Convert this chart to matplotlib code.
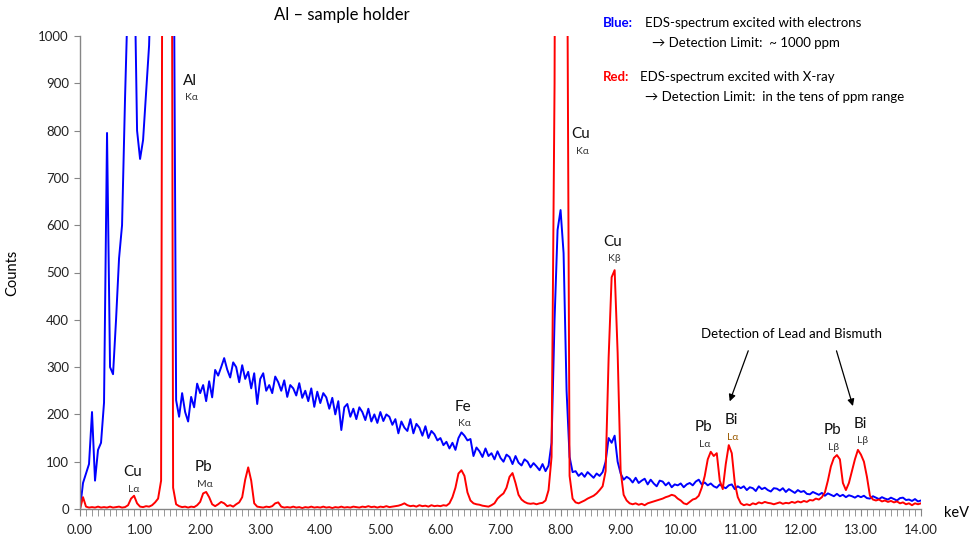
import numpy as np
import matplotlib

matplotlib.use("Agg")
import matplotlib.pyplot as plt
from matplotlib.ticker import MultipleLocator, FuncFormatter

plt.rcParams["font.family"] = ["Lato", "DejaVu Sans"]

# energy grid of the spectra (keV), one channel every 0.05 keV
STEP_KEV = 0.05
N_CHANNELS = 281

# EDS spectrum excited with electrons (blue), counts per channel
blue_counts = [
    0, 55, 75, 95, 205, 60, 125, 140, 225, 795, 300, 285, 400, 530, 600, 870, 1100, 1400, 1200, 800,
    740, 780, 880, 980, 1200, 1600, 2000, 2500, 3000, 3000, 2000, 1500, 230, 195, 245, 205, 185, 237, 215, 265,
    245, 262, 228, 270, 236, 294, 282, 300, 319, 295, 278, 310, 300, 268, 304, 275, 290, 255, 287, 222,
    275, 287, 250, 262, 245, 280, 268, 250, 272, 237, 262, 255, 240, 266, 235, 250, 228, 255, 216, 248,
    224, 245, 236, 212, 235, 200, 228, 167, 215, 222, 195, 212, 190, 215, 205, 188, 212, 185, 200, 182,
    205, 186, 200, 195, 178, 190, 160, 185, 172, 165, 190, 160, 180, 172, 155, 175, 150, 165, 158, 145,
    150, 135, 142, 128, 140, 125, 150, 162, 155, 145, 148, 112, 130, 122, 110, 128, 112, 118, 105, 122,
    108, 100, 115, 110, 95, 112, 98, 92, 105, 100, 88, 97, 90, 82, 95, 80, 92, 140, 400, 590,
    632, 541, 250, 110, 78, 80, 70, 76, 68, 78, 72, 66, 75, 70, 78, 100, 150, 140, 155, 100,
    75, 62, 68, 64, 56, 66, 55, 60, 64, 52, 62, 54, 48, 60, 58, 50, 56, 46, 52, 50,
    54, 46, 52, 55, 50, 58, 62, 52, 56, 50, 54, 48, 45, 52, 47, 44, 50, 52, 42, 48,
    44, 48, 40, 46, 44, 38, 48, 42, 45, 40, 37, 44, 43, 39, 44, 36, 42, 38, 34, 40,
    36, 38, 32, 31, 36, 33, 30, 34, 28, 33, 30, 27, 32, 27, 30, 25, 29, 27, 24, 28,
    25, 28, 23, 22, 27, 24, 21, 25, 22, 20, 24, 21, 18, 23, 24, 19, 20, 17, 21, 16,
    18,
]

# EDS spectrum excited with X-ray (red), counts per channel
red_counts = [
    0, 25, 5, 3, 4, 3, 5, 3, 4, 3, 5, 3, 4, 5, 3, 4, 8, 22, 28, 12,
    5, 4, 6, 5, 8, 14, 22, 60, 3000, 3000, 3000, 45, 10, 6, 4, 5, 3, 5, 4, 8,
    15, 33, 36, 25, 10, 6, 10, 15, 12, 6, 8, 5, 10, 14, 25, 62, 88, 60, 12, 5,
    4, 3, 5, 4, 6, 12, 14, 5, 3, 4, 3, 5, 3, 4, 2, 4, 3, 5, 3, 4,
    3, 5, 3, 4, 2, 4, 3, 5, 3, 4, 3, 5, 4, 3, 5, 4, 6, 4, 5, 3,
    5, 4, 6, 4, 5, 6, 7, 9, 12, 8, 6, 7, 5, 8, 6, 7, 5, 8, 6, 7,
    6, 8, 7, 12, 25, 45, 75, 82, 70, 35, 18, 12, 10, 9, 7, 6, 5, 8, 12, 22,
    28, 33, 45, 68, 76, 55, 30, 20, 15, 12, 11, 12, 10, 12, 13, 18, 40, 110, 900, 3000,
    3000, 3000, 1500, 70, 22, 14, 12, 15, 18, 22, 25, 28, 33, 40, 48, 80, 320, 490, 505, 330,
    80, 30, 18, 12, 10, 12, 9, 11, 8, 12, 14, 16, 18, 20, 22, 25, 27, 30, 28, 22,
    18, 12, 10, 15, 20, 22, 28, 45, 70, 105, 121, 112, 118, 60, 42, 95, 135, 118, 55, 25,
    12, 8, 10, 8, 12, 10, 14, 12, 15, 13, 12, 10, 12, 14, 11, 13, 12, 15, 13, 16,
    14, 17, 15, 19, 18, 22, 20, 25, 35, 60, 90, 108, 114, 105, 55, 40, 55, 80, 105, 125,
    115, 100, 68, 28, 20, 18, 20, 16, 18, 15, 17, 14, 16, 12, 14, 10, 12, 8, 12, 10,
    12,
]

# peak labels: (element, line, keV, counts)
peak_labels = [
    ("Al", "Kα", 1.83, 905),
    ("Cu", "Kα", 8.33, 792),
    ("Cu", "Kβ", 8.86, 565),
    ("Fe", "Kα", 6.37, 216),
    ("Cu", "Lα", 0.87, 78),
    ("Pb", "Mα", 2.05, 88),
    ("Pb", "Lα", 10.37, 173),
    ("Bi", "Lα", 10.84, 188),
    ("Pb", "Lβ", 12.52, 167),
    ("Bi", "Lβ", 12.99, 180),
]

W, H = 978, 536


def fx(px):
    return px / W


def fy(py):
    return 1 - py / H


def main():
    energy = np.arange(N_CHANNELS) * STEP_KEV

    fig = plt.figure(figsize=(W / 100, H / 100), dpi=100)
    ax = fig.add_axes([fx(80), fy(509), fx(921) - fx(80), fy(36) - fy(509)])

    ax.plot(energy, blue_counts, color="#0000ff", lw=1.4)
    ax.plot(energy, red_counts, color="#ff0000", lw=1.4)

    ax.set_xlim(0, 14)
    ax.set_ylim(0, 1000)
    ax.xaxis.set_major_locator(MultipleLocator(1))
    ax.xaxis.set_minor_locator(MultipleLocator(0.1))
    ax.xaxis.set_major_formatter(FuncFormatter(lambda v, _: f"{v:.2f}"))
    ax.yaxis.set_major_locator(MultipleLocator(100))

    for s in ["top", "right"]:
        ax.spines[s].set_visible(False)
    for s in ["left", "bottom"]:
        ax.spines[s].set_color("#868686")
        ax.spines[s].set_linewidth(1.0)
    ax.tick_params(axis="both", which="both", direction="out", color="#868686",
                   labelsize=9.5, labelcolor="#222222")
    ax.tick_params(axis="x", which="major", length=5, pad=6)
    ax.tick_params(axis="x", which="minor", length=5)
    ax.tick_params(axis="y", length=4, pad=4)

    ax.set_ylabel("Counts", fontsize=10.5, labelpad=14)
    fig.text(fx(957), fy(513), "keV", fontsize=10.5, ha="center", va="center")
    fig.text(fx(342), fy(15), "Al – sample holder", fontsize=12, ha="center", va="center")

    for elem, line, x, y in peak_labels:
        ax.text(x, y, elem, fontsize=11, ha="center", va="center", color="#111111")
        sub_color = "#9a5a00" if (elem, line) == ("Bi", "Lα") else "#333333"
        ax.text(x + 0.03, y - 36, line, fontsize=7.5, ha="center", va="center", color=sub_color)

    ax.text(11.85, 370, "Detection of Lead and Bismuth", fontsize=9.5, ha="center", va="center")
    arrow = dict(arrowstyle="-|>", color="black", lw=0.9, mutation_scale=10)
    ax.annotate("", xy=(10.80, 222), xytext=(11.14, 340), arrowprops=arrow)
    ax.annotate("", xy=(12.88, 212), xytext=(12.58, 340), arrowprops=arrow)

    fig.text(fx(603), fy(23), "Blue:", fontsize=9.5, fontweight="bold", color="#0000ff", va="center")
    fig.text(fx(645), fy(23), "EDS-spectrum excited with electrons", fontsize=9.5, va="center")
    fig.text(fx(652), fy(43), "→ Detection Limit:  ~ 1000 ppm", fontsize=9.5, va="center")
    fig.text(fx(603), fy(77), "Red:", fontsize=9.5, fontweight="bold", color="#ff0000", va="center")
    fig.text(fx(640), fy(77), "EDS-spectrum excited with X-ray", fontsize=9.5, va="center")
    fig.text(fx(645), fy(97), "→ Detection Limit:  in the tens of ppm range", fontsize=9.5, va="center")

    fig.savefig("out.png", dpi=100)
    plt.close(fig)


if __name__ == "__main__":
    main()
